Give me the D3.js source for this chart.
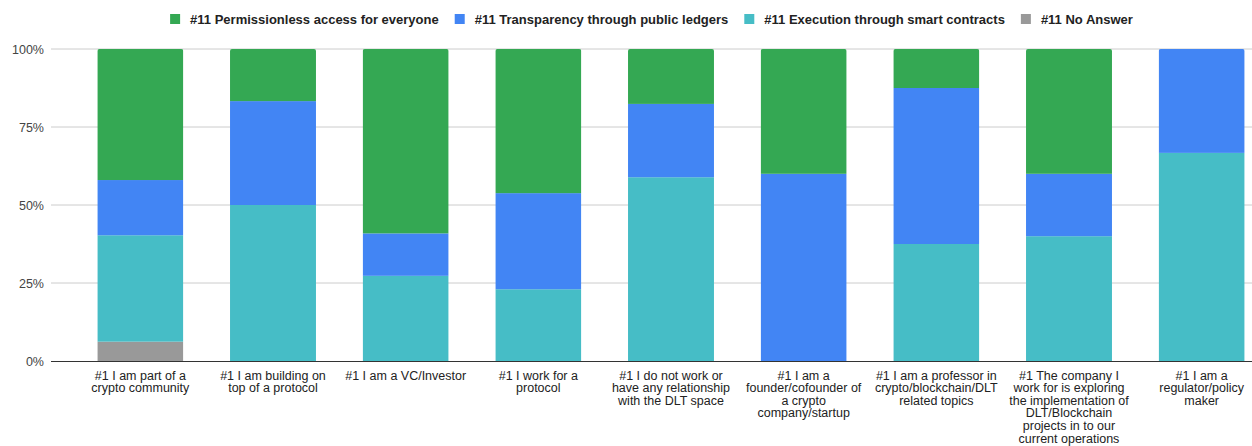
<!DOCTYPE html>
<html>
<head>
<meta charset="utf-8">
<script src="https://cdn.jsdelivr.net/npm/d3@7"></script>
<style>
  html, body { margin: 0; padding: 0; background: #fff; }
  svg { display: block; font-family: Arial, "Liberation Sans", sans-serif; }
</style>
</head>
<body>
<svg id="chart" width="1252" height="446"></svg>
<script>
// ---- data ----
const categories = [
  ["#1 I am part of a", "crypto community"],
  ["#1 I am building on", "top of a protocol"],
  ["#1 I am a VC/Investor"],
  ["#1 I work for a", "protocol"],
  ["#1 I do not work or", "have any relationship", "with the DLT space"],
  ["#1 I am a", "founder/cofounder of", "a crypto", "company/startup"],
  ["#1 I am a professor in", "crypto/blockchain/DLT", "related topics"],
  ["#1 The company I", "work for is exploring", "the implementation of", "DLT/Blockchain", "projects in to our", "current operations"],
  ["#1 I am a", "regulator/policy", "maker"]
];
const seriesNames = [
  "#11 Permissionless access for everyone",
  "#11 Transparency through public ledgers",
  "#11 Execution through smart contracts",
  "#11 No Answer"
];
const permissionless = [42.0, 16.7, 59.1, 46.2, 17.6, 40.0, 12.5, 40.0, 0];
const transparency   = [17.7, 33.3, 13.6, 30.8, 23.5, 60.0, 50.0, 20.0, 33.3];
const execution      = [34.1, 50.0, 27.3, 23.0, 58.9, 0, 37.5, 40.0, 66.7];
const noAnswer       = [6.2, 0, 0, 0, 0, 0, 0, 0, 0];
const yTicks = [0, 25, 50, 75, 100];
const yTickLabels = ["0%", "25%", "50%", "75%", "100%"];
const colors = ["#34a853", "#4285f4", "#46bdc6", "#999999"];

// ---- layout ----
const svg = d3.select("#chart");
const plotLeft = 51, plotRight = 1252, plotTop = 49, plotBottom = 361;

const x = d3.scaleBand()
  .domain(d3.range(categories.length))
  .range([74, 1268])
  .paddingInner(0.352)
  .paddingOuter(0.176);
const y = d3.scaleLinear().domain([0, 100]).range([plotBottom, plotTop]);

// gridlines
svg.append("g").selectAll("line")
  .data(yTicks.filter(d => d > 0))
  .join("line")
  .attr("x1", plotLeft).attr("x2", plotRight)
  .attr("y1", d => y(d)).attr("y2", d => y(d))
  .attr("stroke", "#cccccc").attr("stroke-width", 1);

// y labels
const yAxis = d3.axisLeft(y).tickValues(yTicks).tickSize(0).tickPadding(0)
  .tickFormat((d, i) => yTickLabels[i]);
const ya = svg.append("g").attr("transform", `translate(44,0)`).call(yAxis);
ya.select(".domain").remove();
ya.selectAll("text").attr("font-size", 12.5).attr("fill", "#444")
  .attr("font-family", "Arial, 'Liberation Sans', sans-serif");

// stacked data: bottom -> top
const rows = categories.map((c, i) => ({
  i,
  noAnswer: noAnswer[i],
  execution: execution[i],
  transparency: transparency[i],
  permissionless: permissionless[i]
}));
const keys = ["noAnswer", "execution", "transparency", "permissionless"];
const keyColor = { noAnswer: colors[3], execution: colors[2], transparency: colors[1], permissionless: colors[0] };
const stacked = d3.stack().keys(keys)(rows);

const defs = svg.append("defs");
rows.forEach(r => {
  defs.append("clipPath").attr("id", "clip" + r.i)
    .append("rect")
    .attr("x", x(r.i)).attr("y", y(100))
    .attr("width", x.bandwidth())
    .attr("height", y(0) - y(100) + 6)
    .attr("rx", 2).attr("ry", 2);
});

const barsG = svg.append("g");
stacked.forEach(layer => {
  barsG.append("g").attr("fill", keyColor[layer.key])
    .selectAll("rect")
    .data(layer.filter(d => d[1] - d[0] > 0))
    .join("rect")
    .attr("clip-path", d => `url(#clip${d.data.i})`)
    .attr("x", d => x(d.data.i))
    .attr("y", d => y(d[1]))
    .attr("width", x.bandwidth())
    .attr("height", d => y(d[0]) - y(d[1]));
});

// baseline
svg.append("line")
  .attr("x1", plotLeft).attr("x2", plotRight)
  .attr("y1", y(0) + 0.5).attr("y2", y(0) + 0.5)
  .attr("stroke", "#333333").attr("stroke-width", 1);

// x labels
const xl = svg.append("g");
categories.forEach((lines, i) => {
  const t = xl.append("text")
    .attr("x", x(i) + x.bandwidth() / 2)
    .attr("y", 379)
    .attr("text-anchor", "middle")
    .attr("font-size", 12.5)
    .attr("fill", "#222");
  lines.forEach((ln, k) => {
    t.append("tspan").attr("x", x(i) + x.bandwidth() / 2)
      .attr("y", 379.5 + k * 12.6).text(ln);
  });
});

// legend
const lg = svg.append("g");
const items = seriesNames.map((name, i) => {
  const g = lg.append("g");
  g.append("rect").attr("width", 10).attr("height", 10).attr("y", 14).attr("fill", colors[i]);
  const t = g.append("text").attr("x", 20).attr("y", 23.5)
    .attr("font-size", 13).attr("font-weight", "bold").attr("fill", "#222").text(name);
  return { g, w: 20 + t.node().getComputedTextLength() };
});
const gap = 16;
const total = d3.sum(items, d => d.w) + gap * (items.length - 1);
let cx = (plotLeft + plotRight) / 2 - total / 2;
items.forEach(it => { it.g.attr("transform", `translate(${cx},0)`); cx += it.w + gap; });
</script>
</body>
</html>
